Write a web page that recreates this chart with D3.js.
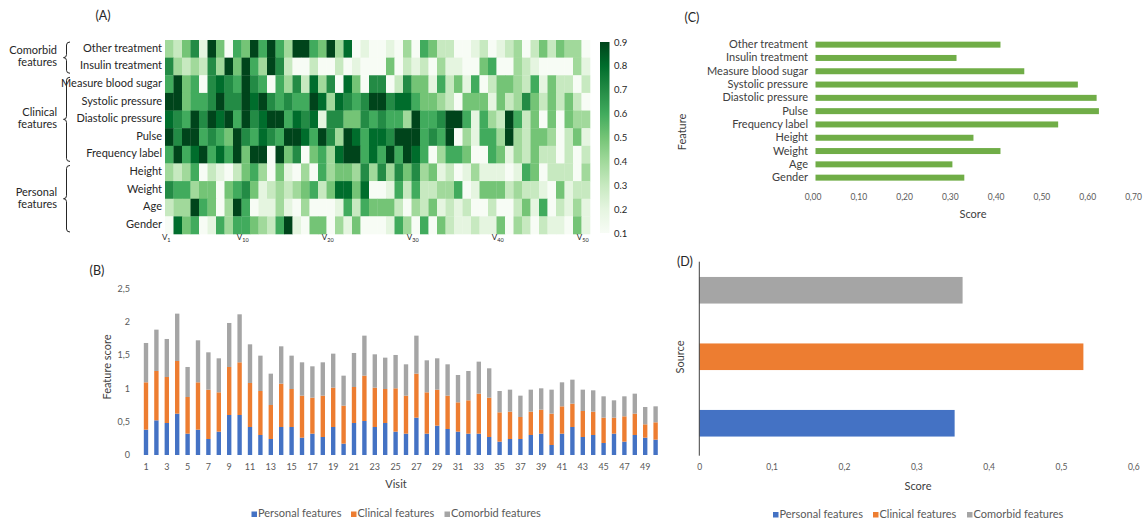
<!DOCTYPE html>
<html>
<head>
<meta charset="utf-8">
<script src="https://cdn.jsdelivr.net/npm/d3@7"></script>
<style>
  body { margin: 0; background: #fff; }
  svg text { font-family: Lato, "Open Sans", sans-serif; }
</style>
</head>
<body>
<svg id="chart" width="1147" height="523"></svg>
<script>
// ---- data ----
var features = ["Other treatment", "Insulin treatment", "Measure blood sugar", "Systolic pressure",
  "Diastolic pressure", "Pulse", "Frequency label", "Height", "Weight", "Age", "Gender"];

var visits = d3.range(1, 51);

// heatmap (A): one row per feature, V1..V50
var heatValues = [
  [.4,.3,.5,.7,.2,.9,.5,.1,.6,.5,.9,.6,.9,.6,.4,.9,.9,.6,.5,.9,.4,.8,.1,.2,.1,.1,.2,.1,.4,.1,.6,.5,.3,.3,.1,.1,.2,.3,.1,.2,.3,.4,.1,.3,.5,.3,.5,.4,.4,.1],
  [.7,.4,.3,.4,.3,.7,.4,.9,.5,.9,.6,.4,.9,.7,.3,.1,.1,.3,.1,.1,.3,.1,.2,.1,.1,.1,.5,.1,.3,.2,.3,.1,.4,.2,.2,.1,.1,.5,.6,.1,.1,.4,.3,.2,.1,.1,.1,.1,.4,.2],
  [.6,.9,.5,.6,.1,.7,.8,.7,.6,.9,.7,.6,.1,.6,.4,.7,.3,.8,.4,.7,.1,.8,.5,.1,.7,.7,.1,.3,.7,.5,.5,.2,.6,.3,.5,.2,.6,.1,.3,.5,.5,.4,.3,.6,.2,.5,.3,.3,.1,.3],
  [.9,.9,.5,.6,.6,.7,.9,.7,.7,.9,.8,.9,.7,.6,.7,.6,.6,.9,.8,.4,.8,.7,.6,.7,.9,.9,.7,.8,.8,.6,.5,.5,.4,.3,.1,.5,.5,.5,.2,.5,.3,.4,.7,.5,.3,.5,.3,.5,.3,.1],
  [.8,.7,.6,.9,.7,.9,.8,.9,.6,.9,.7,.8,.9,.9,.6,.8,.7,.8,.2,.7,.7,.5,.5,.7,.6,.7,.6,.6,.4,.9,.6,.6,.7,.9,.9,.6,.2,.6,.4,.3,.9,.6,.3,.5,.1,.5,.1,.5,.4,.4],
  [.9,.7,.9,.9,.6,.7,.6,.5,.9,.7,.6,.8,.7,.6,.9,.9,.8,.6,.9,.7,.4,.9,.8,.6,.8,.8,.7,.9,.9,.9,.6,.7,.6,.9,.1,.4,.2,.6,.6,.4,.9,.4,.3,.5,.5,.4,.1,.3,.5,.2],
  [.6,.9,.6,.8,.9,.6,.8,.6,.9,.5,.9,.9,.1,.9,.5,.7,.1,.5,.6,.4,.8,.9,.9,.6,.8,.6,.9,.6,.9,.8,.6,.1,.4,.6,.6,.5,.1,.1,.6,.5,.2,.4,.3,.5,.3,.3,.1,.3,.1,.3],
  [.4,.3,.4,.6,.1,.3,.2,.1,.3,.5,.6,.4,.1,.5,.2,.1,.4,.1,.6,.4,.5,.5,.4,.7,.4,.7,.4,.7,.5,.7,.4,.5,.2,.3,.1,.2,.4,.2,.2,.2,.1,.2,.6,.5,.1,.3,.3,.3,.1,.4],
  [.7,.6,.6,.4,.5,.5,.1,.5,.6,.7,.5,.2,.3,.4,.3,.4,.5,.6,.3,.5,.8,.8,.5,.8,.1,.1,.2,.6,.3,.6,.3,.3,.4,.4,.6,.1,.2,.5,.5,.5,.3,.4,.3,.3,.2,.1,.5,.2,.3,.3],
  [.3,.4,.4,.9,.6,.5,.1,.4,.9,.6,.1,.2,.2,.4,.2,.1,.4,.1,.1,.1,.2,.6,.3,.6,.5,.5,.5,.3,.1,.4,.3,.5,.2,.3,.2,.3,.1,.1,.3,.1,.1,.3,.5,.2,.6,.1,.3,.2,.4,.2],
  [.1,.8,.5,.6,.1,.2,.6,.4,.6,.6,.5,.4,.3,.6,.9,.2,.1,.5,.5,.1,.4,.2,.5,.1,.1,.1,.2,.6,.4,.1,.6,.1,.5,.3,.2,.2,.3,.2,.2,.5,.1,.4,.3,.1,.3,.2,.2,.1,.5,.2]
];

var featureGroups = [
  {name: ["Comorbid", "features"], from: 0, to: 1},
  {name: ["Clinical", "features"], from: 2, to: 6},
  {name: ["Personal", "features"], from: 7, to: 10}
];

var heatTickVisits = [1, 10, 20, 30, 40, 50];
var colorTicks = [0.1, 0.2, 0.3, 0.4, 0.5, 0.6, 0.7, 0.8, 0.9];

// stacked bars (B)
var personalScore = [.38,.52,.48,.62,.32,.38,.24,.35,.6,.6,.42,.3,.24,.42,.42,.26,.32,.27,.42,.17,
  .48,.51,.42,.48,.35,.32,.56,.32,.44,.39,.35,.32,.32,.27,.2,.24,.24,.3,.32,.15,
  .32,.42,.27,.3,.18,.32,.2,.3,.26,.23];
var clinicalScore = [.71,.74,.69,.79,.55,.71,.74,.59,.72,.79,.66,.66,.51,.65,.57,.63,.54,.62,.59,.57,
  .54,.68,.59,.51,.65,.57,.66,.62,.54,.5,.44,.5,.6,.59,.44,.41,.33,.35,.36,.47,
  .41,.35,.39,.35,.38,.24,.38,.32,.2,.26];
var comorbidScore = [.59,.62,.57,.71,.45,.63,.56,.51,.66,.72,.58,.53,.47,.56,.5,.5,.47,.5,.51,.45,
  .51,.6,.5,.47,.5,.47,.57,.48,.47,.47,.41,.44,.48,.44,.32,.33,.32,.33,.32,.36,
  .36,.36,.32,.32,.32,.26,.3,.3,.26,.24];

// feature importance (C)
var featureScore = [0.404, 0.308, 0.456, 0.573, 0.614, 0.619, 0.530, 0.345, 0.404, 0.299, 0.325];

// source importance (D)
var sources = ["Comorbid features", "Clinical features", "Personal features"];
var sourceScore = [0.364, 0.531, 0.353];

var legendNames = ["Personal features", "Clinical features", "Comorbid features"];
var seriesColors = {"Personal features": "#4472c4", "Clinical features": "#ed7d31", "Comorbid features": "#a5a5a5"};

// ---- setup ----
var svg = d3.select("#chart");
var comma = d3.formatLocale({decimal: ",", thousands: ".", grouping: [3], currency: ["", ""]});
var tickGray = "#595959", titleGray = "#404040";

function panelTitle(txt, x, y) {
  svg.append("text").attr("x", x).attr("y", y).attr("text-anchor", "middle")
    .attr("dominant-baseline", "middle").attr("font-size", 12.5).attr("fill", "#262626").text(txt);
}

// ================= (A) heatmap =================
panelTitle("(A)", 103, 17);

var hx = d3.scaleBand().domain(visits).range([165, 590]);
var hy = d3.scaleBand().domain(features).range([40, 234]);
var greens = d3.schemeGreens[9];
var heatColor = d3.scaleLinear().domain(colorTicks).range(greens).clamp(true);

var cells = [];
heatValues.forEach(function(row, i) {
  row.forEach(function(v, j) { cells.push({f: features[i], v: visits[j], val: v}); });
});

svg.append("g").selectAll("rect").data(cells).enter().append("rect")
  .attr("x", function(d) { return hx(d.v); })
  .attr("y", function(d) { return hy(d.f); })
  .attr("width", hx.bandwidth() + 0.3)
  .attr("height", hy.bandwidth() + 0.3)
  .attr("fill", function(d) { return heatColor(d.val); });

// row labels
svg.append("g").selectAll("text").data(features).enter().append("text")
  .attr("x", 162).attr("y", function(d) { return hy(d) + hy.bandwidth() / 2; })
  .attr("text-anchor", "end").attr("dominant-baseline", "middle")
  .attr("font-size", 11).attr("fill", "#262626").text(function(d) { return d; });

// group braces + labels
featureGroups.forEach(function(g) {
  var y0 = hy(features[g.from]) + 2, y1 = hy(features[g.to]) + hy.bandwidth() - 2;
  var ym = (y0 + y1) / 2;
  var p = d3.path();
  p.moveTo(70, y0);
  p.quadraticCurveTo(66.5, y0, 66.5, y0 + 3);
  p.lineTo(66.5, ym - 3);
  p.quadraticCurveTo(66.5, ym, 63.5, ym);
  p.quadraticCurveTo(66.5, ym, 66.5, ym + 3);
  p.lineTo(66.5, y1 - 3);
  p.quadraticCurveTo(66.5, y1, 70, y1);
  svg.append("path").attr("d", p.toString()).attr("fill", "none").attr("stroke", "#262626").attr("stroke-width", 1);
  var t = svg.append("text").attr("text-anchor", "end").attr("font-size", 11).attr("fill", "#262626");
  g.name.forEach(function(line, k) {
    t.append("tspan").attr("x", 57).attr("y", ym - 6 + k * 12).attr("dominant-baseline", "middle").text(line);
  });
});

// visit labels V1, V10 ...
var vt = svg.append("g").selectAll("text").data(heatTickVisits).enter().append("text")
  .attr("x", function(d) { return hx(d) + hx.bandwidth() / 2 - 3; })
  .attr("y", 240).attr("text-anchor", "middle").attr("font-size", 8).attr("fill", "#262626");
vt.append("tspan").text("V");
vt.append("tspan").attr("font-size", 5.5).attr("dy", 2).text(function(d) { return d; });

// colour bar
var defs = svg.append("defs");
var grad = defs.append("linearGradient").attr("id", "greenGrad").attr("x1", 0).attr("y1", 1).attr("x2", 0).attr("y2", 0);
greens.forEach(function(c, i) {
  grad.append("stop").attr("offset", (i / (greens.length - 1)) * 100 + "%").attr("stop-color", c);
});
var cy = d3.scaleLinear().domain([0.1, 0.9]).range([233, 42]);
svg.append("rect").attr("x", 600).attr("y", cy(0.9)).attr("width", 9.5)
  .attr("height", cy(0.1) - cy(0.9)).attr("fill", "url(#greenGrad)");
svg.append("g").attr("transform", "translate(610,0)")
  .call(d3.axisRight(cy).tickValues(colorTicks).tickSize(0).tickPadding(4).tickFormat(d3.format(".1f")))
  .call(function(g) { g.select(".domain").remove(); })
  .selectAll("text").attr("font-size", 9.5).attr("fill", "#262626").attr("font-family", "Lato, sans-serif");

// ================= (B) stacked bars =================
panelTitle("(B)", 97, 272);

var stackRows = visits.map(function(v, i) {
  return {visit: v, "Personal features": personalScore[i], "Clinical features": clinicalScore[i], "Comorbid features": comorbidScore[i]};
});
var stacked = d3.stack().keys(legendNames)(stackRows);

var bx = d3.scaleBand().domain(visits).range([140.8, 660.8]).paddingInner(0.58).paddingOuter(0.29);
var by = d3.scaleLinear().domain([0, 2.5]).range([455, 288.3]);

svg.append("g").selectAll("g").data(stacked).enter().append("g")
  .attr("fill", function(s) { return seriesColors[s.key]; })
  .selectAll("rect").data(function(s) { return s; }).enter().append("rect")
  .attr("x", function(d) { return bx(d.data.visit); })
  .attr("y", function(d) { return by(d[1]); })
  .attr("width", bx.bandwidth())
  .attr("height", function(d) { return by(d[0]) - by(d[1]); });

svg.append("g").attr("transform", "translate(136,0)")
  .call(d3.axisLeft(by).tickValues([0, 0.5, 1, 1.5, 2, 2.5]).tickSize(0).tickPadding(6).tickFormat(comma.format("~g")))
  .call(function(g) { g.select(".domain").remove(); })
  .selectAll("text").attr("font-size", 9).attr("fill", tickGray).attr("font-family", "Lato, sans-serif");

svg.append("g").attr("transform", "translate(0,455)")
  .call(d3.axisBottom(bx).tickValues(visits.filter(function(v) { return v % 2 === 1; })).tickSize(0).tickPadding(9))
  .call(function(g) { g.select(".domain").remove(); })
  .selectAll("text").attr("font-size", 9).attr("fill", tickGray).attr("font-family", "Lato, sans-serif");

svg.append("text").attr("transform", "translate(108,367) rotate(-90)").attr("text-anchor", "middle")
  .attr("dominant-baseline", "middle").attr("font-size", 11).attr("fill", titleGray).text("Feature score");
svg.append("text").attr("x", 396).attr("y", 485).attr("text-anchor", "middle")
  .attr("dominant-baseline", "middle").attr("font-size", 11).attr("fill", titleGray).text("Visit");

function legend(xs, y) {
  var lg = svg.append("g");
  legendNames.forEach(function(n, i) {
    lg.append("rect").attr("x", xs[i]).attr("y", y - 3).attr("width", 5.5).attr("height", 5.5).attr("fill", seriesColors[n]);
    lg.append("text").attr("x", xs[i] + 6.5).attr("y", y).attr("dominant-baseline", "middle")
      .attr("font-size", 11).attr("fill", tickGray).text(n);
  });
}
legend([251.5, 351, 444.5], 514.5);

// ================= (C) feature importance =================
panelTitle("(C)", 692, 19);

var cx = d3.scaleLinear().domain([0, 0.7]).range([815.5, 1136]);
var cyb = d3.scaleBand().domain(features).range([38, 184.3]).paddingInner(0.55).paddingOuter(0.275);

svg.append("g").selectAll("rect").data(features).enter().append("rect")
  .attr("x", cx(0))
  .attr("y", function(d) { return cyb(d); })
  .attr("width", function(d, i) { return cx(featureScore[i]) - cx(0); })
  .attr("height", cyb.bandwidth())
  .attr("fill", "#70ad47");

svg.append("g").attr("transform", "translate(810,0)")
  .call(d3.axisLeft(cyb).tickSize(0).tickPadding(2))
  .call(function(g) { g.select(".domain").remove(); })
  .selectAll("text").attr("font-size", 11).attr("fill", titleGray).attr("font-family", "Lato, sans-serif");

svg.append("g").attr("transform", "translate(-3,193)")
  .call(d3.axisBottom(cx).ticks(7).tickSize(0).tickPadding(1).tickFormat(comma.format(".2f")))
  .call(function(g) { g.select(".domain").remove(); })
  .selectAll("text").attr("font-size", 8.5).attr("fill", tickGray).attr("font-family", "Lato, sans-serif");

svg.append("text").attr("x", 973).attr("y", 215).attr("text-anchor", "middle")
  .attr("dominant-baseline", "middle").attr("font-size", 11).attr("fill", titleGray).text("Score");
svg.append("text").attr("transform", "translate(683,132) rotate(-90)").attr("text-anchor", "middle")
  .attr("dominant-baseline", "middle").attr("font-size", 11).attr("fill", titleGray).text("Feature");

// ================= (D) source importance =================
panelTitle("(D)", 685, 263);

var dx = d3.scaleLinear().domain([0, 0.6]).range([699.3, 1133.3]);
var dy = d3.scaleBand().domain(sources).range([257, 456.5]).paddingInner(0.6).paddingOuter(0.3);

svg.append("g").selectAll("rect").data(sources).enter().append("rect")
  .attr("x", dx(0))
  .attr("y", function(d) { return dy(d); })
  .attr("width", function(d, i) { return dx(sourceScore[i]) - dx(0); })
  .attr("height", dy.bandwidth())
  .attr("fill", function(d) { return seriesColors[d]; });

svg.append("line").attr("x1", dx(0)).attr("x2", dx(0)).attr("y1", 261.7).attr("y2", 455.7)
  .attr("stroke", "#404040").attr("stroke-width", 1);

svg.append("g").attr("transform", "translate(0,463)")
  .call(d3.axisBottom(dx).ticks(6).tickSize(0).tickPadding(1).tickFormat(comma.format("~g")))
  .call(function(g) { g.select(".domain").remove(); })
  .selectAll("text").attr("font-size", 8.5).attr("fill", tickGray).attr("font-family", "Lato, sans-serif");

svg.append("text").attr("x", 918).attr("y", 487).attr("text-anchor", "middle")
  .attr("dominant-baseline", "middle").attr("font-size", 11).attr("fill", titleGray).text("Score");
svg.append("text").attr("transform", "translate(681,357) rotate(-90)").attr("text-anchor", "middle")
  .attr("dominant-baseline", "middle").attr("font-size", 11).attr("fill", titleGray).text("Source");

legend([773, 873, 967], 515);
</script>
</body>
</html>
